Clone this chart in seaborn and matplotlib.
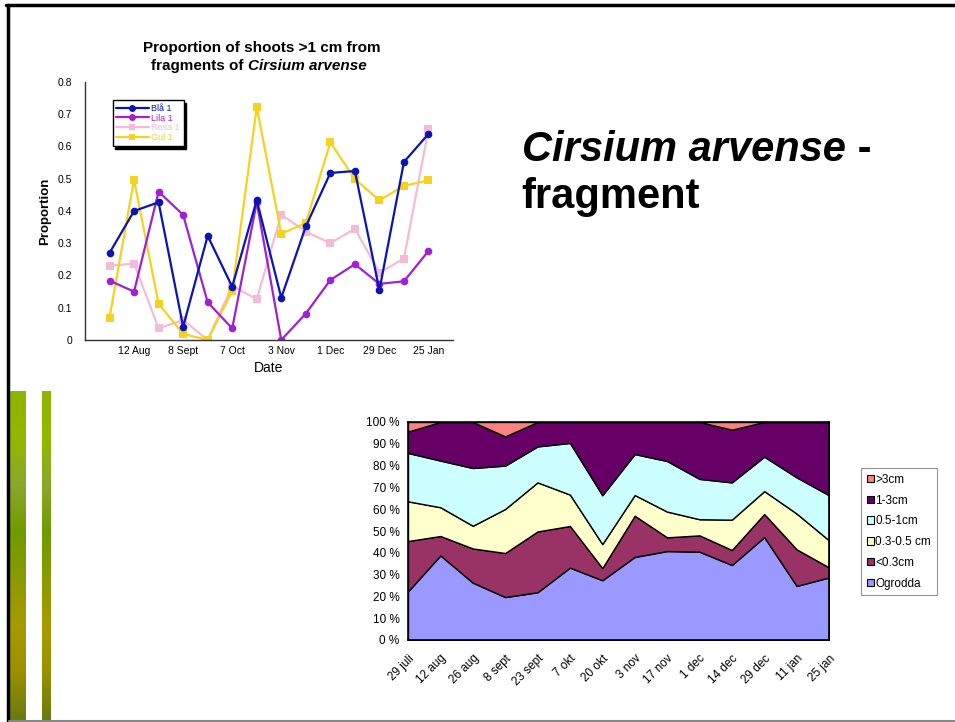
import numpy as np
import pandas as pd
import matplotlib
matplotlib.use("Agg")
import matplotlib.pyplot as plt
import seaborn as sns
from matplotlib.patches import Patch
from matplotlib.lines import Line2D
from matplotlib.colors import LinearSegmentedColormap

# ---------------- data: top chart ----------------
top_idx = list(range(14))
top_ticklabels = ["", "12 Aug", "", "8 Sept", "", "7 Oct", "", "3 Nov", "",
                  "1 Dec", "", "29 Dec", "", "25 Jan"]
bla1 = [0.27, 0.40, 0.427, 0.041, 0.323, 0.165, 0.434, 0.131, 0.352, 0.518, 0.524, 0.155, 0.552, 0.639]
lila1 = [0.184, 0.15, 0.46, 0.388, 0.117, 0.036, 0.427, 0.0, 0.082, 0.186, 0.235, 0.174, 0.182, 0.276]
rosa1 = [0.23, 0.237, 0.036, 0.062, 0.0, 0.168, 0.126, 0.389, 0.336, 0.30, 0.345, 0.209, 0.252, 0.654]
gul1 = [0.069, 0.497, 0.112, 0.019, 0.0, 0.152, 0.722, 0.33, 0.362, 0.613, 0.499, 0.433, 0.478, 0.495]
top_series = ["Blå 1", "Lila 1", "Rosa 1", "Gul 1"]

# ---------------- data: bottom chart ----------------
dates = ["29 juli", "12 aug", "26 aug", "8 sept", "23 sept", "7 okt", "20 okt",
         "3 nov", "17 nov", "1 dec", "14 dec", "29 dec", "11 jan", "25 jan"]
ogrodda = [22.3, 38.8, 26.3, 19.7, 21.9, 33.2, 27.4, 38.1, 40.8, 40.5, 34.4, 47.2, 24.8, 28.7]
lt03 = [23.1, 8.9, 15.7, 20.2, 27.9, 19.1, 5.6, 18.9, 6.3, 7.5, 6.9, 10.6, 16.8, 4.6]
c03_05 = [18.2, 13.2, 10.4, 20.2, 22.5, 14.4, 11.0, 9.5, 11.8, 7.4, 13.9, 10.5, 16.4, 12.4]
c05_1 = [22.2, 21.4, 26.5, 19.9, 16.5, 23.7, 22.4, 18.8, 23.2, 18.5, 17.1, 15.8, 16.6, 20.7]
c1_3 = [9.8, 17.7, 21.1, 13.4, 11.2, 9.6, 33.6, 14.7, 17.9, 26.1, 24.2, 15.9, 25.4, 33.6]
gt3 = [4.4, 0, 0, 6.6, 0, 0, 0, 0, 0, 0, 3.5, 0, 0, 0]
size_labels = ["Ogrodda", "<0.3cm", "0.3-0.5 cm", "0.5-1cm", "1-3cm", ">3cm"]

sns.set_theme(style="white")
plt.rcParams["font.family"] = ["Liberation Sans", "DejaVu Sans"]
plt.rcParams["text.color"] = "black"
plt.rcParams["axes.labelcolor"] = "black"
plt.rcParams["xtick.color"] = "black"
plt.rcParams["ytick.color"] = "black"

W, H = 955, 722
fig = plt.figure(figsize=(W / 100, H / 100), dpi=100)
fig.patch.set_facecolor("white")

def fx(px):
    return px / W

def fy(py):
    return 1 - py / H

# ---------------- slide decorations ----------------
fig.add_artist(Line2D([fx(6), 1], [fy(5), fy(5)], color="black", lw=2.5))
fig.add_artist(Line2D([fx(7.5), fx(7.5)], [fy(5), 0], color="black", lw=2.5))
fig.add_artist(Line2D([fx(9), 1], [fy(720.5), fy(720.5)], color="#888888", lw=1.5))

green = LinearSegmentedColormap.from_list(
    "g", ["#8fb400", "#92b800", "#8aa82a", "#6f9a00", "#8c9a00", "#a69c00", "#9a9000", "#6a7a10"])
grad = np.linspace(0, 1, 256).reshape(-1, 1)
for x0, x1 in [(9, 25.5), (42, 50.5)]:
    gax = fig.add_axes([fx(x0), fy(720), fx(x1 - x0), fy(391) - fy(720)])
    gax.imshow(grad, aspect="auto", cmap=green, extent=[0, 1, 0, 1], origin="upper")
    gax.axis("off")

# ---------------- top chart ----------------
ax1 = fig.add_axes([fx(85), fy(340), fx(453 - 85), fy(82) - fy(340)])
df_top = pd.DataFrame({
    "idx": top_idx * 4,
    "value": bla1 + lila1 + rosa1 + gul1,
    "series": sum([[s] * 14 for s in top_series], []),
})
top_colors = {"Blå 1": "#0a14b4", "Lila 1": "#a020d2", "Rosa 1": "#f2bcd8", "Gul 1": "#f4d21e"}
top_markers = {"Blå 1": "o", "Lila 1": "o", "Rosa 1": "s", "Gul 1": "s"}
order_draw = ["Rosa 1", "Gul 1", "Lila 1", "Blå 1"]
for s in order_draw:
    sub = df_top[df_top["series"] == s]
    sns.lineplot(data=sub, x="idx", y="value", ax=ax1, color=top_colors[s],
                 marker=top_markers[s], markersize=5.5, markeredgewidth=0,
                 linewidth=1.6, label=s, legend=False)
ax1.set_xlim(-1, 14)
ax1.set_ylim(0, 0.8)
ax1.set_xticks(top_idx)
ax1.set_xticklabels(top_ticklabels, fontsize=7.5)
ax1.set_yticks(np.arange(0, 0.81, 0.1))
ax1.set_yticklabels(["0", "0.1", "0.2", "0.3", "0.4", "0.5", "0.6", "0.7", "0.8"], fontsize=7.5)
ax1.tick_params(direction="in", length=4, width=1, color="#333333", pad=4)
ax1.tick_params(axis="y", pad=9)
for sp in ["top", "right"]:
    ax1.spines[sp].set_visible(False)
for sp in ["left", "bottom"]:
    ax1.spines[sp].set_color("#333333")
    ax1.spines[sp].set_linewidth(1)
ax1.set_xlabel("Date", fontsize=10, labelpad=4)
ax1.set_ylabel("Proportion", fontsize=9.5, fontweight="bold", labelpad=5)
ax1.set_facecolor("none")

handles = [Line2D([], [], color=top_colors[s], marker=top_markers[s], markersize=5,
                  markeredgewidth=0, lw=1.6) for s in top_series]
leg1 = ax1.legend(handles, top_series, loc="upper left", bbox_to_anchor=(0.075, 0.93),
                  fontsize=6.5, labelcolor="linecolor", frameon=True, fancybox=False,
                  shadow={"color": "black", "alpha": 1}, edgecolor="black",
                  handlelength=3.6, handletextpad=0.3, labelspacing=0.1,
                  borderpad=0.4, borderaxespad=0)
leg1.get_frame().set_linewidth(1)

fig.text(fx(262), fy(48), "Proportion of shoots >1 cm from", ha="center", va="center",
         fontsize=11, fontweight="bold")
t1 = fig.text(fx(151), fy(66), "fragments of ", ha="left", va="center",
              fontsize=11, fontweight="bold")
fig.canvas.draw()
bb = t1.get_window_extent()
fig.text(bb.x1 / W, fy(66), "Cirsium arvense", ha="left", va="center",
         fontsize=11, fontweight="bold", style="italic")

# ---------------- heading text ----------------
t2 = fig.text(fx(522), fy(150), "Cirsium arvense", ha="left", va="center",
              fontsize=30, fontweight="bold", style="italic")
fig.canvas.draw()
bb2 = t2.get_window_extent()
fig.text(bb2.x1 / W, fy(150), " -", ha="left", va="center", fontsize=30, fontweight="bold")
fig.text(fx(521), fy(197), "fragment", ha="left", va="center", fontsize=30, fontweight="bold")

# ---------------- bottom chart ----------------
ax2 = fig.add_axes([fx(408), fy(640), fx(829 - 408), fy(422) - fy(640)])
x = np.arange(len(dates))
stack_vals = [ogrodda, lt03, c03_05, c05_1, c1_3, gt3]
stack_colors = ["#9999ff", "#993366", "#ffffcc", "#ccffff", "#660066", "#ff8080"]
ax2.stackplot(x, *stack_vals, colors=stack_colors, edgecolor="black", linewidth=1)
ax2.set_xlim(0, 13)
ax2.set_ylim(0, 100)
ax2.set_yticks(np.arange(0, 101, 10))
ax2.set_yticklabels([f"{v} %" for v in range(0, 101, 10)], fontsize=8.5)
ax2.set_xticks(x)
ax2.set_xticklabels(dates, fontsize=8.5, rotation=45, ha="right", rotation_mode="anchor")
ax2.tick_params(axis="both", direction="out", length=3, width=1, color="black", pad=3)
ax2.tick_params(axis="x", pad=6)
for sp in ax2.spines.values():
    sp.set_color("black")
    sp.set_linewidth(1.2)
ax2.set_facecolor("white")

leg_handles = [Patch(facecolor=c, edgecolor="black", linewidth=0.8)
               for c in stack_colors[::-1]]
leg2 = fig.legend(leg_handles, size_labels[::-1], loc="upper left",
                  bbox_to_anchor=(fx(861), fy(468)), fontsize=8.5, frameon=True,
                  fancybox=False, edgecolor="#777777", handlelength=0.6, handleheight=0.6,
                  handletextpad=0.1, labelspacing=0.74, borderpad=0.5, borderaxespad=0)
leg2.get_frame().set_linewidth(0.8)

fig.savefig("out.png", dpi=100)
